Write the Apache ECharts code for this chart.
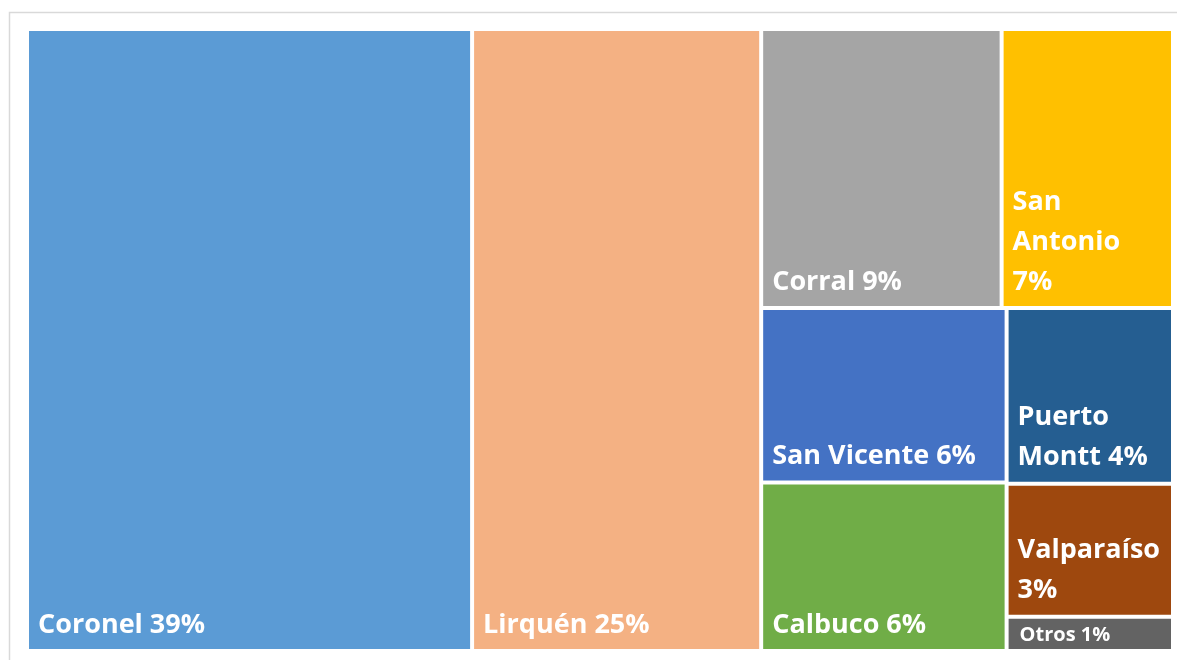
<!DOCTYPE html>
<html>
<head>
<meta charset="utf-8">
<script src="https://cdn.jsdelivr.net/npm/echarts@6/dist/echarts.min.js"></script>
<style>
html,body{margin:0;padding:0;background:#fff;}
#chart{width:1177px;height:660px;}
</style>
</head>
<body>
<div id="chart"></div>
<script>
// Data (share of total, %)
const ports = ['Coronel', 'Lirquén', 'Corral', 'San Antonio', 'San Vicente', 'Calbuco', 'Puerto Montt', 'Valparaíso', 'Otros'];
const shares = [38.8, 25.2, 9.4, 6.7, 6.0, 5.8, 4.1, 3.1, 0.8];
// Label text templates ({p} = rounded percent)
const labelTemplates = ['Coronel {p}', 'Lirquén {p}', 'Corral {p}', 'San\nAntonio\n{p}', 'San Vicente {p}', 'Calbuco {p}', 'Puerto\nMontt {p}', 'Valparaíso\n{p}', 'Otros {p}'];
const colors = ['#5B9BD5', '#F4B183', '#A5A5A5', '#FFC000', '#4472C4', '#70AD47', '#255E91', '#9E480E', '#636363'];

const total = shares.reduce((a, b) => a + b, 0);
const data = ports.map((name, i) => {
  const item = { name: name, value: shares[i], itemStyle: { color: colors[i] } };
  if (shares[i] < 2) item.label = { fontSize: 20, lineHeight: 20, position: 'insideLeft', offset: [-1, 1] };
  return item;
});

const chart = echarts.init(document.getElementById('chart'), null, { renderer: 'canvas' });
chart.setOption({
  backgroundColor: '#ffffff',
  animation: false,
  graphic: [{
    type: 'rect',
    shape: { x: 9.5, y: 12.5, width: 1200, height: 700 },
    style: { fill: 'none', stroke: '#d9d9d9', lineWidth: 1.5 },
    silent: true
  }],
  series: [{
    type: 'treemap',
    left: 29, top: 31, width: 1142, height: 618,
    squareRatio: 1,
    roam: false,
    nodeClick: false,
    breadcrumb: { show: false },
    itemStyle: { borderWidth: 0, gapWidth: 4, borderColor: '#fff' },
    label: {
      show: true,
      position: 'insideBottomLeft',
      distance: 7,
      offset: [-3, 8],
      color: '#ffffff',
      fontFamily: 'Open Sans',
      fontWeight: 'bold',
      fontSize: 27,
      lineHeight: 40,
      overflow: 'none',
      formatter: function (p) {
        const i = ports.indexOf(p.name);
        const pct = Math.round(p.value / total * 100) + '%';
        return labelTemplates[i].replace('{p}', pct);
      }
    },
    emphasis: { disabled: true },
    data: data
  }]
});
</script>
</body>
</html>
